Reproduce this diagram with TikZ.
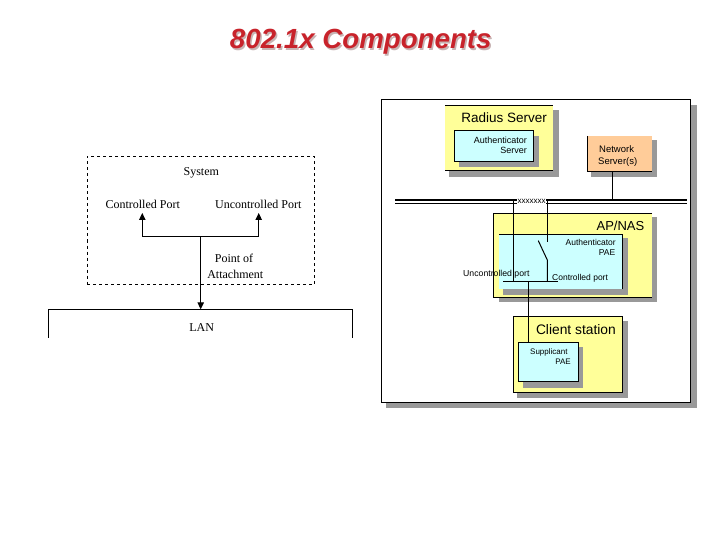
\documentclass[tikz,border=0pt]{standalone}
\usepackage{fontspec}
\setmainfont{Liberation Sans}
\newfontfamily\serifface{Liberation Serif}
\usetikzlibrary{fit,arrows.meta}
\definecolor{padyellow}{HTML}{FFFF99}
\definecolor{padblue}{HTML}{CCFFFF}
\definecolor{padorange}{HTML}{FFCC99}
\definecolor{padshadow}{HTML}{999999}
\definecolor{titlered}{HTML}{C8232B}
\definecolor{titleshadow}{HTML}{C8B4B4}
\tikzset{
  x=1pt,y=-1pt,
  wire/.style={draw=black,line width=1pt},
  panelface/.style={inner sep=0pt,outer sep=0pt,draw=none},
  sans/.style={font=\fontsize{#1}{#1}\selectfont,inner sep=0pt,text=black},
  rm/.style={font=\serifface\fontsize{12}{12}\selectfont,inner sep=0pt,text=black},
  tip/.style={-{Triangle[length=7pt,width=6.5pt]}},
}
\newcommand{\pad}[6]{%
  \node[panelface,fill=#6,fit={(#2,#3)(#4,#5)}] (#1) {};}
\begin{document}
\begin{tikzpicture}
\useasboundingbox (0,0) rectangle (720,540);
% title
\node[font=\bfseries\itshape\fontsize{27.7}{28}\selectfont,text=titleshadow,inner sep=0pt] at (362.3,43.5) {802.1x Components};
\node[font=\bfseries\itshape\fontsize{27.7}{28}\selectfont,text=titlered,inner sep=0pt] (title) at (360.8,42) {802.1x Components};

% left diagram
\node[draw=black,dashed,line width=0.9pt,inner sep=0pt,fit={(87.3,156.3)(314.7,284.3)}] (system) {};
\node[rm] (systemlabel) at (201.3,172.5) {System};
\node[rm] (cport) at (142.7,204) {Controlled Port};
\node[rm] (uport) at (258.3,204) {Uncontrolled Port};
\node[rm] (poa) at (234,258.7) {Point of};
\node[rm] (attach) at (235.3,274) {Attachment};
\node[rm] (lanlabel) at (201.7,327.5) {LAN};
\coordinate (branch) at (200.7,236.7);
\coordinate (lanL) at (48.3,337.7);
\coordinate (lanTL) at (48.3,309.3);
\coordinate (lanTR) at (352.3,309.3);
\coordinate (lanR) at (352.3,337.7);
\coordinate (lanHit) at (200.7,309.3);
\coordinate (cTip) at (142.3,213);
\coordinate (uTip) at (258.7,213);
\draw[wire] (lanL) -- (lanTL) -- (lanTR) -- (lanR);
\draw[wire,tip] (branch) -| (cTip);
\draw[wire,tip] (branch) -| (uTip);
\draw[wire,tip] (branch) -- (lanHit);

% right frame
\fill[padshadow] (386,105) rectangle (697,408);
\node[draw=black,fill=white,line width=1pt,inner sep=0pt,fit={(381.7,100)(690.7,402)}] (frame) {};

% Radius server
\fill[padshadow] (449,110) rectangle (559,177.3);
\pad{radius}{445}{106}{553}{171}{padyellow}
\draw[wire] (radius.north west) -- (radius.north east);
\draw[wire] (radius.south west) -- (radius.south east);
\fill[padshadow] (459,135.7) rectangle (538.7,166.7);
\node[panelface,draw=black,line width=1pt,fill=padblue,fit={(454.3,130.3)(533.7,161.3)}] (authserver) {};
\node[sans=13.5,anchor=base east] (radiuslabel) at (547,122.5) {Radius Server};
\node[sans=9,anchor=base east] (as1) at (527,144) {Authenticator};
\node[sans=9,anchor=base east] (as2) at (527,154) {Server};

% Network server
\fill[padshadow] (591,140) rectangle (657,177);
\pad{network}{587.3}{136}{652}{171.3}{padorange}
\draw[wire] (network.north west) -- (network.south west) -- (network.south east);
\node[sans=9.5,anchor=base west] (ns1) at (599,152.5) {Network};
\node[sans=9.5,anchor=base west] (ns2) at (598,164.5) {Server(s)};

% AP/NAS
\fill[padshadow] (499,217) rectangle (656.7,302.3);
\pad{ap}{493.3}{213.3}{652}{297.3}{padyellow}
\draw[wire] (ap.north east) -- (ap.north west) -- (ap.south west) -- (ap.south east);
\fill[padshadow] (503.3,237.7) rectangle (627.7,295);
\pad{pae}{499}{234.3}{622.7}{289}{padblue}
\draw[wire] (pae.north west) -- (pae.north east) -- (pae.south east);
\node[sans=13,anchor=base east] (aplabel) at (644.5,230) {AP/NAS};
\node[sans=8.5,anchor=base east] (ae1) at (616,245) {Authenticator};
\node[sans=8.5,anchor=base east] (ae2) at (615.5,255.5) {PAE};

% Client station
\fill[padshadow] (517.3,321) rectangle (628,397.7);
\node[panelface,draw=black,line width=1pt,fill=padyellow,fit={(513.3,316)(622.7,392.3)}] (client) {};
\fill[padshadow] (522.7,346.7) rectangle (583.3,387.7);
\node[panelface,draw=black,line width=1pt,fill=padblue,fit={(518.3,342.3)(578.3,381.3)}] (supp) {};
\node[sans=13.8,anchor=base east] (clientlabel) at (616,334) {Client station};
\node[sans=8,anchor=base west] (sp1) at (530,354) {Supplicant};
\node[sans=8,anchor=base east] (sp2) at (571,364) {PAE};

% bus
\coordinate (busL) at (395,200.5);
\coordinate (busR) at (686.7,200.5);
\coordinate (busThinL) at (395,203.7);
\coordinate (busThinR) at (686.7,203.7);
\coordinate (busNet) at (612.3,200.5);
\coordinate (busU) at (513.3,200.5);
\coordinate (busC) at (547.3,200.5);
\draw[black,line width=2pt] (busL) -- (busR);
\draw[black,line width=1pt] (busThinL) -- (busThinR);
\node[sans=8,fill=white,inner xsep=0.5pt,inner ysep=1.5pt] (xs) at (531.5,201) {xxxxxxx};
\draw[wire] (network.south -| busNet) -- (busNet);

% switch wiring
\coordinate (uEnd) at (513.3,281.5);
\coordinate (cTop) at (547.3,241.7);
\coordinate (swA) at (538.3,240.7);
\coordinate (swB) at (547.3,260);
\coordinate (cEnd) at (547.3,281.5);
\coordinate (hL) at (503.3,281.5);
\coordinate (hR) at (557.7,281.5);
\coordinate (hDrop) at (528.7,281.5);
\draw[wire] (busU) -- (uEnd);
\draw[wire] (busC) -- (cTop);
\draw[wire] (swA) -- (swB) -- (cEnd);
\draw[wire] (hL) -- (hR);
\draw[wire] (hDrop) -- (hDrop |- supp.north);
\node[sans=8.7,anchor=base west] (unc) at (463,276) {Uncontrolled port};
\node[sans=8.5,anchor=base west] (con) at (552,280) {Controlled port};
\end{tikzpicture}
\end{document}
